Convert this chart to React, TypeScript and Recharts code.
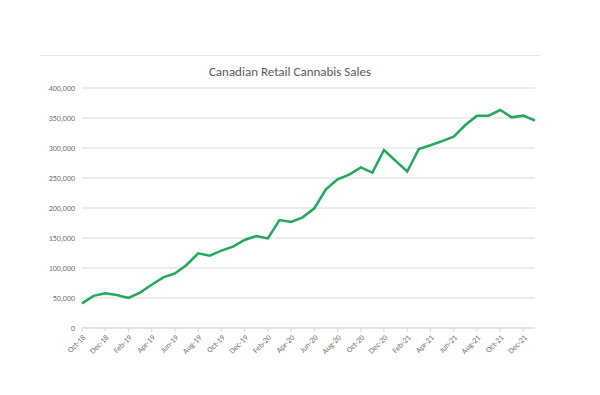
import { LineChart, Line, XAxis, YAxis, CartesianGrid } from 'recharts';

const months = [
  'Oct-18', 'Nov-18', 'Dec-18', 'Jan-19', 'Feb-19', 'Mar-19', 'Apr-19', 'May-19',
  'Jun-19', 'Jul-19', 'Aug-19', 'Sep-19', 'Oct-19', 'Nov-19', 'Dec-19', 'Jan-20',
  'Feb-20', 'Mar-20', 'Apr-20', 'May-20', 'Jun-20', 'Jul-20', 'Aug-20', 'Sep-20',
  'Oct-20', 'Nov-20', 'Dec-20', 'Jan-21', 'Feb-21', 'Mar-21', 'Apr-21', 'May-21',
  'Jun-21', 'Jul-21', 'Aug-21', 'Sep-21', 'Oct-21', 'Nov-21', 'Dec-21', 'Jan-22',
];

const sales = [
  41000, 53500, 57800, 55000, 50000, 58900, 72000, 84400,
  91000, 105000, 124400, 120600, 128900, 135600, 146700, 153300,
  149400, 180000, 176700, 184400, 199400, 231000, 247800, 255600,
  267800, 258900, 296700, 278500, 260800, 298300, 304500, 311500,
  319000, 338300, 353900, 353900, 363300, 351100, 353900, 345600,
];

const yTicks = [0, 50000, 100000, 150000, 200000, 250000, 300000, 350000, 400000];

const data = months.map((m, i) => ({ month: m, sales: sales[i] }));

const font = "Carlito, 'Liberation Sans Narrow', 'Open Sans', sans-serif";

export default function App() {
  return (
    <div style={{ position: 'absolute', left: 0, top: 0, width: 600, height: 395, background: '#fff' }}>
      <div style={{ position: 'absolute', left: 40, top: 55, width: 500, borderTop: '1px solid #e4e4e4' }} />
      <div
        style={{
          position: 'absolute',
          left: 0,
          width: 580,
          top: 64,
          textAlign: 'center',
          fontFamily: font,
          fontSize: 13,
          color: '#595959',
        }}
      >
        Canadian Retail Cannabis Sales
      </div>
      <LineChart
        width={600}
        height={395}
        data={data}
        margin={{ top: 88, right: 65, left: 0, bottom: 17 }}
      >
        <CartesianGrid vertical={false} stroke="#d9d9d9" />
        <XAxis
          dataKey="month"
          interval={1}
          angle={-45}
          textAnchor="end"
          height={50}
          axisLine={{ stroke: '#d9d9d9' }}
          tickLine={{ stroke: '#d9d9d9' }}
          tickSize={4}
          tick={{ fontSize: 8, fill: '#6f6f6f', fontFamily: font }}
        />
        <YAxis
          width={82}
          domain={[0, 400000]}
          ticks={yTicks}
          axisLine={false}
          tickLine={false}
          tickSize={0}
          tickMargin={7}
          tickFormatter={(v: number) => v.toLocaleString('en-US')}
          tick={{ fontSize: 8, fill: '#6f6f6f', fontFamily: font }}
        />
        <Line
          type="linear"
          dataKey="sales"
          stroke="#22a85a"
          strokeWidth={2.5}
          dot={false}
          isAnimationActive={false}
        />
      </LineChart>
    </div>
  );
}
